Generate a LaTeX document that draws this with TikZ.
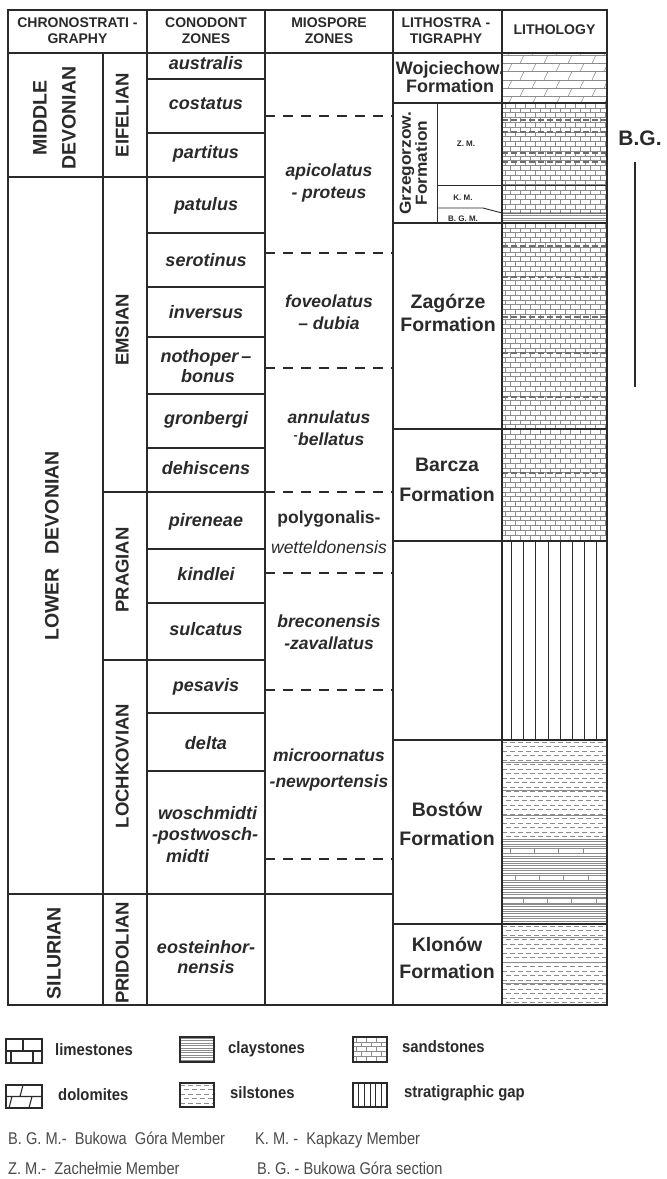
\documentclass[tikz,border=0pt]{standalone}
\usepackage{fontspec}
\setmainfont{Liberation Sans}
\definecolor{ln}{HTML}{2A2A2A}
\definecolor{pat}{HTML}{8C8C8C}
\definecolor{patdark}{HTML}{6E6E6E}
\definecolor{notec}{HTML}{4A4A4A}

\newcommand\claypat[4]{%
  \begin{scope}
    \clip (#1,#2) rectangle (#3,#4);
    \pgfmathtruncatemacro\nrows{(#4-#2)/2.4+1}
    \foreach \i in {0,...,\nrows}{\draw[patline] (#1,#2+1.2+2.4*\i) -- (#3,#2+1.2+2.4*\i);}
  \end{scope}}
\newcommand\sandpat[4]{%
  \begin{scope}
    \clip (#1,#2) rectangle (#3,#4);
    \pgfmathtruncatemacro\nrows{(#4-#2)/4.8+1}
    \pgfmathtruncatemacro\ncols{(#3-#1)/10+1}
    \foreach \i in {0,...,\nrows}{
      \draw[patline] (#1,#2+4.8*\i) -- (#3,#2+4.8*\i);
      \pgfmathsetmacro\off{mod(\i,2)*5}
      \foreach \k in {0,...,\ncols}{\draw[patline] (#1+3+\off+10*\k,#2+4.8*\i) -- ++(0,4.8);}
    }
  \end{scope}}
\newcommand\siltpat[4]{%
  \begin{scope}
    \clip (#1,#2) rectangle (#3,#4);
    \pgfmathtruncatemacro\nrows{(#4-#2)/4.5+1}
    \foreach \i in {0,...,\nrows}{
      \pgfmathsetmacro\ph{mod(\i,2)*4}
      \draw[patline, dash pattern=on 5pt off 3pt, dash phase=\ph pt] (#1,#2+2+4.5*\i) -- (#3,#2+2+4.5*\i);
    }
  \end{scope}}
\newcommand\dolopat[4]{%
  \begin{scope}
    \clip (#1,#2) rectangle (#3,#4);
    \pgfmathtruncatemacro\nrows{(#4-#2)/8.3+1}
    \pgfmathtruncatemacro\ncols{(#3-#1)/24+1}
    \foreach \i in {0,...,\nrows}{
      \draw[patline] (#1,#2+2+8.3*\i) -- (#3,#2+2+8.3*\i);
      \pgfmathsetmacro\off{mod(\i,2)*12}
      \foreach \k in {0,...,\ncols}{\draw[patline] (#1+6+\off+24*\k,#2+2+8.3*\i) -- ++(4,-8.3);}
    }
  \end{scope}}

\begin{document}
\begin{tikzpicture}[x=1pt,y=-1pt,line join=miter,
  outer/.style={draw=ln, line width=1.6pt},
  grid/.style={draw=ln, line width=1.25pt},
  thin/.style={draw=ln, line width=0.9pt},
  miodash/.style={draw=ln, line width=1.1pt, dash pattern=on 10pt off 8pt},
  patline/.style={draw=pat, line width=0.55pt},
  darkband/.style={draw=patdark, line width=1.4pt, dash pattern=on 6pt off 3pt},
  hd/.style={font=\fontsize{14}{16}\selectfont\bfseries, align=center, text=ln, inner sep=0, text height=0.72em, text depth=0pt},
  cz/.style={font=\fontsize{18}{19.5}\selectfont\bfseries\itshape, align=center, text=ln, inner sep=0, text height=0.72em, text depth=0pt},
  mz/.style={font=\fontsize{17.5}{22}\selectfont\bfseries\itshape, align=center, text=ln, inner sep=0, text height=0.72em, text depth=0pt},
  ser/.style={font=\fontsize{19.5}{29}\selectfont\bfseries, rotate=90, align=center, text=ln, inner sep=0, text height=0.72em, text depth=0pt},
  stg/.style={font=\fontsize{18.5}{22}\selectfont\bfseries, rotate=90, text=ln, inner sep=0, text height=0.72em, text depth=0pt},
  fm/.style={font=\fontsize{19.5}{23}\selectfont\bfseries, align=center, text=ln, inner sep=0, text height=0.72em, text depth=0pt},
  mem/.style={font=\fontsize{8}{9}\selectfont\bfseries, text=ln, inner sep=0, text height=0.72em, text depth=0pt},
  leg/.style={font=\fontsize{16.5}{18}\selectfont\bfseries, anchor=west, text=ln, inner sep=0, text height=0.72em, text depth=0pt},
  note/.style={font=\fontsize{17}{18}\selectfont, anchor=west, text=notec, inner sep=0, text height=0.72em, text depth=0pt},
  legbox/.style={draw=ln, line width=1.1pt}
]
\useasboundingbox[fill=white] (0,0) rectangle (667,1179);

% ---------------- lithology patterns ----------------
\dolopat{502}{53}{607}{103}
\sandpat{502}{103}{607}{185}
\foreach \yy in {120,132,153,162}{\draw[darkband] (502,\yy) -- (607,\yy);}
\sandpat{502}{185}{607}{212}
\claypat{502}{212}{607}{223}
\sandpat{502}{223}{607}{541}
\foreach \yy in {246,277,317,353,397,473}{\draw[darkband] (502,\yy) -- (607,\yy);}
\foreach \k in {0,...,7}{\draw[thin, line width=1pt] (511.7+12.1*\k,541) -- (511.7+12.1*\k,740);}
\siltpat{502}{740}{607}{838}
\foreach \yy in {762,790,815}{\draw[patline, line width=0.9pt] (502,\yy) -- (607,\yy);}
\claypat{502}{838}{607}{924}
\foreach \yy/\off in {851/8,878/13,901/21}{
  \fill[white] (503,\yy-2.5) rectangle (606,\yy+2.5);
  \draw[patline] (502,\yy-2.5) -- (607,\yy-2.5) (502,\yy+2.5) -- (607,\yy+2.5);
  \foreach \k in {0,...,3}{\draw[patline, line width=0.8pt] (502+\off+24.3*\k,\yy-2.5) -- ++(0,5);}
}
\siltpat{502}{924}{607}{1005}
\foreach \yy in {937,962,983}{\draw[patline, line width=0.9pt] (502,\yy) -- (607,\yy);}

% ---------------- grid ----------------
\draw[grid] (103,53) -- (103,1005);
\draw[grid] (147,10) -- (147,1005);
\draw[grid] (265,10) -- (265,1005);
\draw[grid] (393,10) -- (393,1005);
\draw[grid] (502,10) -- (502,1005);
\draw[thin] (437,103) -- (437,223);
\draw[grid] (8,53) -- (607,53);
\draw[grid] (8,177) -- (265,177);
\draw[grid] (8,894) -- (393,894);
\foreach \yy in {492,660}{\draw[grid] (103,\yy) -- (265,\yy);}
\foreach \yy in {79,133,233,287,337,394,448,549,603,713,771}{\draw[grid] (147,\yy) -- (265,\yy);}
\foreach \yy in {116,253,368,492,573,690,859}{\draw[miodash] (265,\yy) -- (393,\yy);}
\foreach \yy in {103,223,429,541,740,924}{\draw[grid] (393,\yy) -- (607,\yy);}
\draw[thin] (437,185) -- (607,185);
\draw[thin] (437,208) -- (483,208) -- (502,213) -- (607,213);
\draw[outer] (8,10) rectangle (607,1005);

% ---------------- header ----------------
\node[hd, text height=26.1pt] (hChr) at (77.5,30) {CHRONOSTRATI -\\GRAPHY};
\node[hd, text height=26.1pt] (hCon) at (206,30) {CONODONT\\ZONES};
\node[hd, text height=26.1pt] (hMio) at (329,30) {MIOSPORE\\ZONES};
\node[hd, text height=26.1pt] (hLit) at (446,30) {LITHOSTRA -\\TIGRAPHY};
\node[hd] (hLith) at (554.5,31) {LITHOLOGY};

% ---------------- chronostratigraphy ----------------
\node[ser, text height=43pt] (midDev) at (54,118) {MIDDLE\\DEVONIAN};
\node[stg] (eif) at (125,115) {EIFELIAN};
\node[ser] (lowDev) at (55,546) {LOWER\hspace{14pt}DEVONIAN};
\node[stg] (ems) at (125,330) {EMSIAN};
\node[stg] (pra) at (125,570) {PRAGIAN};
\node[stg] (loch) at (125,766) {LOCHKOVIAN};
\node[ser] (sil) at (57,953) {SILURIAN};
\node[stg] (pri) at (125,953) {PRIDOLIAN};

% ---------------- conodont zones ----------------
\node[cz] (cAus) at (206,66) {australis};
\node[cz] (cCos) at (206,106) {costatus};
\node[cz] (cPar) at (206,155) {partitus};
\node[cz] (cPat) at (206,207) {patulus};
\node[cz] (cSer) at (206,263) {serotinus};
\node[cz] (cInv) at (206,315) {inversus};
\node[cz, text height=32.5pt] (cNot) at (206,366) {nothoper\,--\\\hspace*{4pt}bonus};
\node[cz] (cGro) at (206,421) {gronbergi};
\node[cz] (cDeh) at (206,471) {dehiscens};
\node[cz] (cPir) at (206,523) {pireneae};
\node[cz] (cKin) at (206,577) {kindlei};
\node[cz] (cSul) at (206,632) {sulcatus};
\node[cz] (cPes) at (206,688) {pesavis};
\node[cz] (cDel) at (206,746) {delta};
\node[cz, align=left, font=\fontsize{18}{21.5}\selectfont\bfseries\itshape, text height=56pt] (cWos) at (205,834) {\hspace*{6pt}woschmidti\\-postwosch-\\\hspace*{14pt}midti};
\node[cz, text height=32.5pt] (cEos) at (206,957) {eosteinhor-\\nensis};

% ---------------- miospore zones ----------------
\node[mz, text height=34.6pt] (mApi) at (329,181) {apicolatus\\- proteus};
\node[mz, text height=34.6pt] (mFov) at (329,312) {foveolatus\\-- dubia};
\node[mz, text height=34.6pt] (mAnn) at (329,428) {annulatus\\\textsuperscript{-}bellatus};
\node[mz, font=\fontsize{17.5}{22}\selectfont\bfseries] (mPol) at (329,520) {polygonalis-};
\node[mz, font=\fontsize{17.5}{22}\selectfont\itshape] (mWet) at (329,550) {wetteldonensis};
\node[mz, text height=34.6pt] (mBre) at (329,632) {breconensis\\-zavallatus};
\node[mz, font=\fontsize{17.5}{26}\selectfont\bfseries\itshape, text height=38.6pt] (mMic) at (329,768) {microornatus\\-newportensis};

% ---------------- lithostratigraphy ----------------
\node[fm, font=\fontsize{18}{16}\selectfont\bfseries, text height=29pt] (fWoj) at (450,78) {Wojciechow.\\Formation};
\node[fm, rotate=90, font=\fontsize{16}{16}\selectfont\bfseries, text height=27.5pt] (fGrz) at (413,163) {\scalebox{1.08}[1]{Grzegorzow.}\\\scalebox{1.08}[1]{Formation}};
\node[mem] (mZM) at (466,143) {Z. M.};
\node[mem] (mKM) at (463,197) {K. M.};
\node[mem] (mBGM) at (463,218) {B. G. M.};
\node[fm] (fZag) at (448,305) {Zagórze};
\node[fm] (fZag2) at (448,328) {Formation};
\node[fm] (fBar) at (447,468) {Barcza};
\node[fm] (fBar2) at (447,498) {Formation};
\node[fm] (fBos) at (447,813) {Bostów};
\node[fm] (fBos2) at (447,842) {Formation};
\node[fm] (fKlo) at (447,948) {Klonów};
\node[fm] (fKlo2) at (447,975) {Formation};

% ---------------- B.G. section ----------------
\node[font=\fontsize{21}{22}\selectfont\bfseries, text=ln, inner sep=0, text height=0.72em, text depth=0pt] (bg) at (640,142) {B.G.};
\coordinate (bgTop) at (635,162);
\coordinate (bgBot) at (635,387);
\draw[draw=ln, line width=1.6pt] (bgTop) -- (bgBot);

% ---------------- legend ----------------
\draw[legbox] (6,1039) rectangle (42,1063);
\draw[legbox] (6,1051) -- (42,1051) (23,1039) -- (23,1051) (11,1051) -- (11,1063) (33,1051) -- (33,1063);
\node[leg] (lLim) at (55,1052) {\scalebox{0.9}[1]{limestones}};
\draw[legbox] (6,1085) rectangle (42,1108);
\draw[legbox] (6,1096.5) -- (42,1096.5) (20,1096.5) -- (23,1085) (9,1108) -- (12,1096.5) (29,1108) -- (32,1096.5);
\node[leg] (lDol) at (58,1097) {\scalebox{0.9}[1]{dolomites}};
\claypat{180}{1037}{214}{1062}
\draw[legbox] (180,1037) rectangle (214,1062);
\node[leg] (lCla) at (228,1050) {\scalebox{0.9}[1]{claystones}};
\siltpat{180}{1083}{214}{1107}
\draw[legbox] (180,1083) rectangle (214,1107);
\node[leg] (lSil) at (230,1095) {\scalebox{0.9}[1]{silstones}};
\sandpat{353}{1037}{387}{1062}
\draw[legbox] (353,1037) rectangle (387,1062);
\node[leg] (lSan) at (402,1049) {\scalebox{0.9}[1]{sandstones}};
\foreach \k in {1,...,5}{\draw[thin, line width=0.8pt] (353+5.67*\k,1083) -- (353+5.67*\k,1107);}
\draw[legbox] (353,1083) rectangle (387,1107);
\node[leg] (lGap) at (404,1094) {\scalebox{0.9}[1]{stratigraphic gap}};

\node[note] (nBGM) at (8,1141) {\scalebox{0.86}[1]{B. G. M.-\ \ Bukowa\ \ Góra Member}};
\node[note] (nKM) at (255,1141) {\scalebox{0.86}[1]{K. M. -\ \ Kapkazy Member}};
\node[note] (nZM) at (8,1171) {\scalebox{0.86}[1]{Z. M.-\ \ Zachełmie Member}};
\node[note] (nBG) at (257,1171) {\scalebox{0.86}[1]{B. G. - Bukowa Góra section}};
\end{tikzpicture}
\end{document}
